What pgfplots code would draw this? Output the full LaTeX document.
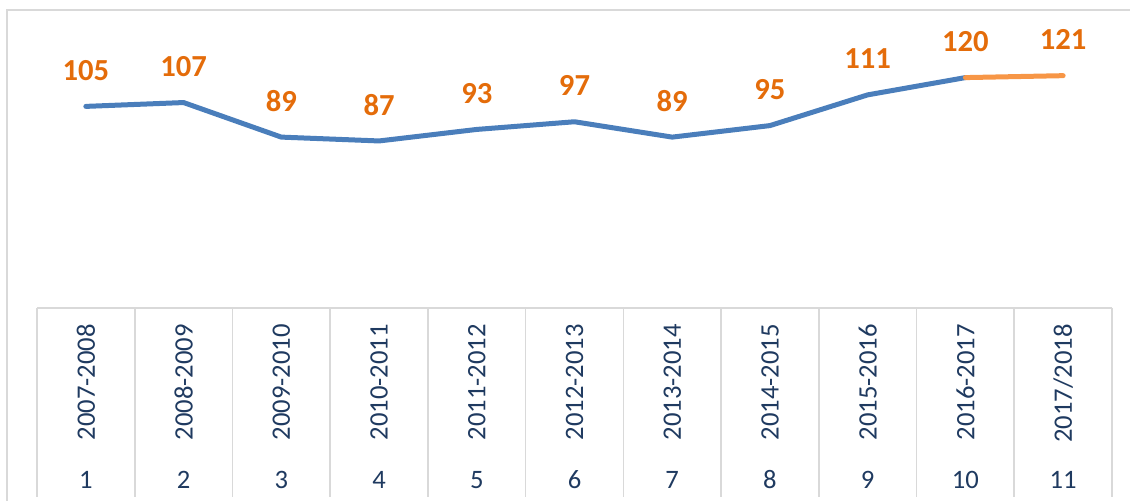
\documentclass[border=0pt]{standalone}
\usepackage{pgfplots}
\pgfplotsset{compat=1.18}
\usepackage{fontspec}
\setmainfont{Carlito}
\definecolor{lineblue}{HTML}{4A7EBB}
\definecolor{lineorange}{HTML}{F79646}
\definecolor{labelorange}{HTML}{E46C0A}
\definecolor{textnavy}{HTML}{1F3A60}
\definecolor{framegray}{HTML}{D9D9D9}
\begin{document}
\begin{tikzpicture}
\path[use as bounding box] (0,0) rectangle (565pt,250.5pt);
% outer chart frame (left and top edges)
\draw[framegray, line width=0.7pt] (3.5pt,0) -- (3.5pt,245.5pt) -- (565pt,245.5pt);
\begin{axis}[
  at={(18.5pt,96.5pt)}, anchor=south west,
  width=537.5pt, height=134.4pt, scale only axis,
  xmin=-0.5, xmax=10.5, ymin=0, ymax=140,
  axis line style={draw=none},
  ytick=\empty,
  xtick={0,...,10},
  xticklabels={2007-2008,2008-2009,2009-2010,2010-2011,2011-2012,2012-2013,2013-2014,2014-2015,2015-2016,2016-2017,2017/2018},
  xtick style={draw=none},
  xticklabel shift=8pt,
  xticklabel style={rotate=90, anchor=east, inner sep=0pt, font=\fontsize{13.3}{15}\selectfont, text=textnavy},
  /pgf/number format/assume math mode=true,
  clip=false,
]
\addplot[lineblue, line width=2.5pt, line join=round, line cap=round] coordinates {
  (0,105) (1,107) (2,89) (3,87) (4,93) (5,97) (6,89) (7,95) (8,111) (9,120)
};
\addplot[lineorange, line width=2.5pt, line cap=round] coordinates {
  (9,120) (10,121)
};
\addplot[draw=none, mark=none,
  nodes near coords,
  nodes near coords style={anchor=center, yshift=18pt, font=\fontsize{15.3}{17}\selectfont\bfseries, text=labelorange}]
  coordinates {
  (0,105) (1,107) (2,89) (3,87) (4,93) (5,97) (6,89) (7,95) (8,111) (9,120) (10,121)
};
% table lines
\draw[framegray, line width=0.8pt] (axis cs:-0.5,0) -- (axis cs:10.5,0);
\pgfplotsinvokeforeach{0,...,11}{
  \draw[framegray, line width=0.8pt] (axis cs:#1-0.5,0) -- ([yshift=-94.5pt]axis cs:#1-0.5,0);
}
\pgfplotsinvokeforeach{0,...,10}{
  \node[text=textnavy, font=\fontsize{13.3}{15}\selectfont, anchor=center] at ([yshift=-86pt]axis cs:#1,0) {\pgfmathtruncatemacro\n{#1+1}\n};
}
\end{axis}
\end{tikzpicture}
\end{document}
